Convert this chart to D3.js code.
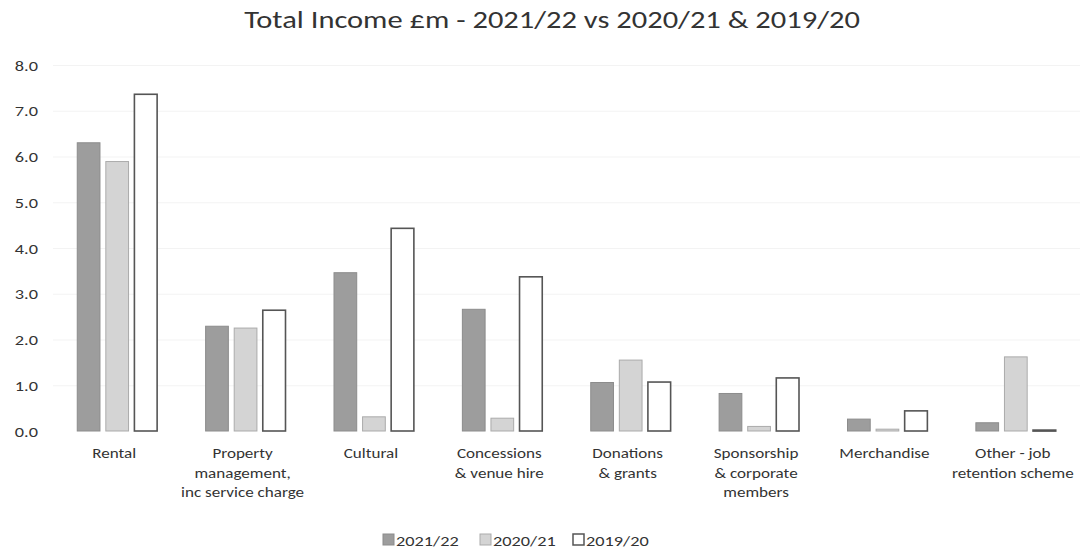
<!DOCTYPE html>
<html>
<head>
<meta charset="utf-8">
<script src="https://cdn.jsdelivr.net/npm/d3@7"></script>
<style>
  body { margin: 0; background: #fff; }
  svg { display: block; font-family: Carlito, Lato, "Open Sans", sans-serif; }
</style>
</head>
<body>
<div id="chart"></div>
<script>
// Chart data
const categories = [
  ["Rental"],
  ["Property", "management,", "inc service charge"],
  ["Cultural"],
  ["Concessions", "& venue hire"],
  ["Donations", "& grants"],
  ["Sponsorship", "& corporate", "members"],
  ["Merchandise"],
  ["Other - job", "retention scheme"]
];
const seriesNames = ["2021/22", "2020/21", "2019/20"];
const values2122 = [6.30, 2.29, 3.46, 2.66, 1.06, 0.82, 0.26, 0.18];
const values2021 = [5.89, 2.25, 0.31, 0.28, 1.55, 0.10, 0.04, 1.62];
const values1920 = [7.36, 2.64, 4.43, 3.37, 1.07, 1.16, 0.44, 0.02];
const yTicks = [0, 1, 2, 3, 4, 5, 6, 7, 8];

// Layout
const W = 1080, H = 551;
const X0 = 53, X1 = 1080, Y0 = 431, Y1 = 65;
const SX = 1.22;   // the source text is a little wide: stretch glyphs horizontally

const fills   = ["#9d9d9d", "#d4d4d4", "#ffffff"];
const strokes = ["#8c8c8c", "#ababab", "#555555"];

const svg = d3.select('#chart').append('svg')
  .attr('width', W).attr('height', H);

// text helper: anchored at (x,y), stretched by SX
function addText(parent, x, y, str, size, anchor) {
  return parent.append('text')
    .attr('transform', `translate(${x},${y}) scale(${SX},1)`)
    .attr('text-anchor', anchor || 'middle')
    .attr('font-size', size)
    .attr('fill', '#333')
    .text(str);
}

const x = d3.scaleBand().domain(d3.range(categories.length)).range([X0, X1]);
const y = d3.scaleLinear().domain([0, 8]).range([Y0, Y1]);
const inner = x.bandwidth() * 0.63;
const xs = d3.scaleBand().domain(d3.range(3)).range([0, inner]).paddingInner(0.17);
const groupOff = (x.bandwidth() - inner) / 2;

// Title
addText(svg, 552, 28, 'Total Income £m - 2021/22 vs 2020/21 & 2019/20', 25);

// Gridlines (faint)
svg.append('g').selectAll('line').data(yTicks.slice(1)).enter().append('line')
  .attr('x1', X0).attr('x2', X1)
  .attr('y1', d => y(d) + 0.5).attr('y2', d => y(d) + 0.5)
  .attr('stroke', '#f3f3f3');

// Y tick labels
const yAxis = svg.append('g');
yTicks.forEach(t => addText(yAxis, 38, y(t) + 5.5, d3.format('.1f')(t), 15, 'end'));

// Bars
const series = [values2122, values2021, values1920];
series.forEach((vals, s) => {
  svg.append('g').selectAll('rect').data(vals).enter().append('rect')
    .attr('x', (d, i) => x(i) + groupOff + xs(s) + 0.5)
    .attr('y', d => y(d))
    .attr('width', xs.bandwidth() - 1)
    .attr('height', d => Math.max(1, Y0 - y(d)))
    .attr('fill', fills[s])
    .attr('stroke', strokes[s])
    .attr('stroke-width', s === 2 ? 1.6 : 1);
});

// Category labels
const catG = svg.append('g');
categories.forEach((lines, i) => {
  const cx = x(i) + x.bandwidth() / 2 - 3;
  lines.forEach((ln, k) => addText(catG, cx, 458 + k * 19.5, ln, 14));
});

// Legend
const legendX = [383, 480, 573];
const legend = svg.append('g');
seriesNames.forEach((name, s) => {
  legend.append('rect')
    .attr('x', legendX[s]).attr('y', 534)
    .attr('width', 11).attr('height', 11)
    .attr('fill', fills[s])
    .attr('stroke', strokes[s])
    .attr('stroke-width', s === 2 ? 1.5 : 1);
  addText(legend, legendX[s] + 13, 546, name, 15, 'start');
});
</script>
</body>
</html>
